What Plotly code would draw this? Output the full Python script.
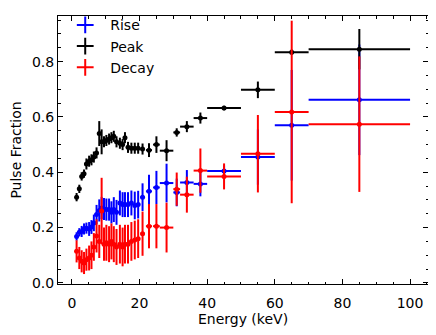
import plotly.graph_objects as go

energy = [1.4, 2.2, 2.9, 3.6, 4.3, 5.1, 5.8, 6.5, 7.3, 8.1, 8.8, 9.5, 10.2, 11.0, 11.7,
          12.4, 13.2, 14.2, 15.0, 15.7, 16.6, 17.6, 18.6, 19.6, 20.9, 22.8, 25.0,
          28.0, 31.0, 34.0, 38.0, 45.0, 55.0, 65.0, 85.0]
energy_err = [0.35, 0.35, 0.35, 0.35, 0.35, 0.35, 0.35, 0.35, 0.35, 0.35, 0.35, 0.35, 0.35, 0.35, 0.35,
              0.35, 0.35, 0.4, 0.4, 0.4, 0.45, 0.45, 0.45, 0.45, 0.6, 0.9, 1.0,
              2.0, 1.0, 2.0, 2.0, 5.0, 5.0, 5.0, 15.0]

rise = [0.168, 0.183, 0.186, 0.195, 0.198, 0.195, 0.202, 0.217, 0.247, 0.262, 0.271, 0.267, 0.265, 0.265, 0.255,
        0.265, 0.255, 0.289, 0.283, 0.283, 0.283, 0.289, 0.280, 0.283, 0.310, 0.331, 0.345,
        0.361, 0.327, 0.363, 0.358, 0.405, 0.455, 0.570, 0.662]
rise_err = [0.015, 0.015, 0.02, 0.02, 0.02, 0.025, 0.025, 0.03, 0.035, 0.04, 0.04, 0.04, 0.04, 0.04, 0.04,
            0.045, 0.045, 0.045, 0.045, 0.045, 0.045, 0.045, 0.05, 0.05, 0.05, 0.06, 0.06,
            0.07, 0.05, 0.045, 0.045, 0.02, 0.10, 0.20, 0.20]

peak = [0.31, 0.34, 0.385, 0.395, 0.43, 0.44, 0.445, 0.455, 0.47, 0.54, 0.51, 0.51, 0.515, 0.52, 0.525,
        0.53, 0.51, 0.505, 0.50, 0.525, 0.49, 0.487, 0.487, 0.487, 0.484, 0.48, 0.50,
        0.478, 0.544, 0.565, 0.596, 0.632, 0.698, 0.834, 0.845]
peak_err = [0.015, 0.015, 0.015, 0.015, 0.02, 0.02, 0.02, 0.02, 0.02, 0.045, 0.045, 0.02, 0.02, 0.02, 0.02,
            0.02, 0.02, 0.02, 0.02, 0.02, 0.02, 0.02, 0.02, 0.02, 0.02, 0.025, 0.03,
            0.038, 0.015, 0.02, 0.02, 0.008, 0.03, 0.01, 0.073]

decay = [0.114, 0.09, 0.078, 0.072, 0.084, 0.09, 0.10, 0.13, 0.17, 0.15, 0.26, 0.14, 0.145, 0.14, 0.15,
         0.14, 0.13, 0.14, 0.13, 0.14, 0.14, 0.15, 0.155, 0.16, 0.178, 0.205, 0.205,
         0.20, 0.339, 0.319, 0.406, 0.385, 0.467, 0.618, 0.574]
decay_err = [0.04, 0.04, 0.04, 0.04, 0.04, 0.045, 0.05, 0.05, 0.06, 0.06, 0.12, 0.06, 0.065, 0.065, 0.065,
             0.065, 0.065, 0.07, 0.07, 0.07, 0.07, 0.07, 0.07, 0.07, 0.08, 0.08, 0.08,
             0.09, 0.06, 0.065, 0.08, 0.047, 0.14, 0.33, 0.245]

series = [("Rise", rise, rise_err, "#0000ff"),
          ("Peak", peak, peak_err, "#000000"),
          ("Decay", decay, decay_err, "#ff0000")]

fig = go.Figure()
for name, vals, errs, col in series:
    fig.add_trace(go.Scatter(
        x=energy, y=vals, mode="markers", name=name, showlegend=False,
        marker=dict(color=col, size=5),
        error_x=dict(type="data", array=energy_err, visible=True, color=col, thickness=2, width=0),
        error_y=dict(type="data", array=errs, visible=True, color=col, thickness=2, width=0),
    ))
for name, vals, errs, col in series:
    fig.add_trace(go.Scatter(
        x=[None], y=[None], mode="markers", name=name, showlegend=True,
        marker=dict(color=col, size=13, symbol="cross-thin", line=dict(color=col, width=2.5)),
    ))

font14 = dict(family="DejaVu Sans", size=14, color="black")
axis_common = dict(
    showline=True, linecolor="black", linewidth=1, mirror="allticks",
    ticks="inside", ticklen=5, tickwidth=1, tickcolor="black",
    showgrid=False, zeroline=False, automargin=False,
    tickfont=font14,
)
fig.update_xaxes(range=[-4.1, 105.3], dtick=20, tick0=0, ticklabelstandoff=6,
                 minor=dict(ticks="inside", ticklen=2.5, dtick=5, tickcolor="black"),
                 title=dict(text="Energy (keV)", font=font14, standoff=4),
                 **axis_common)
fig.update_yaxes(range=[-0.004, 0.965], dtick=0.2, tick0=0, tickformat=".1f",
                 minor=dict(ticks="inside", ticklen=2.5, dtick=0.05, tickcolor="black"),
                 title=dict(text="Pulse Fraction", font=font14, standoff=16),
                 **axis_common)
# page body has an 8px margin, so the figure is sized to fit the remaining window
fig.update_layout(
    width=428, height=327,
    margin=dict(l=50, r=8, t=8, b=50.5, autoexpand=False),
    plot_bgcolor="white", paper_bgcolor="white",
    font=dict(family="DejaVu Sans", color="black"),
    legend=dict(x=0.006, y=0.996, xref="paper", yref="container", xanchor="left", yanchor="top",
                bgcolor="rgba(0,0,0,0)", font=font14, itemsizing="constant",
                tracegroupgap=0, itemwidth=40),
)
fig.write_html("out.html")
